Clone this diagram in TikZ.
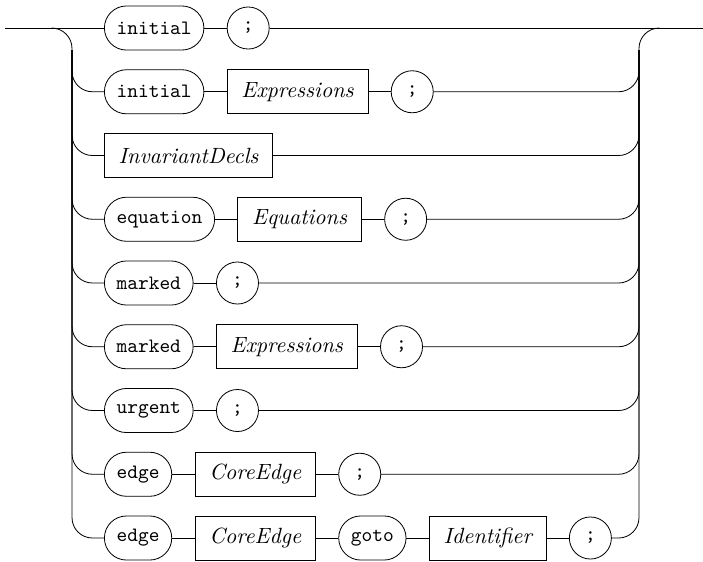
\documentclass[tikz,border=0pt]{standalone}
\usetikzlibrary{positioning}
\tikzset{
    terminal/.style = {rectangle, draw, rounded corners=10.8pt, minimum height=21.6pt, inner xsep=6pt, font=\ttfamily},
    nonterm/.style  = {rectangle, draw, minimum height=21.6pt, inner xsep=7pt, font=\fontsize{10.8}{13}\selectfont\itshape},
    semi/.style     = {circle, draw, minimum size=20.6pt, inner sep=0pt, font=\ttfamily},
    track/.style    = {draw, rounded corners=10pt}
}
\begin{document}
\begin{tikzpicture}[x=0.49pt, y=-0.49pt, node distance=11pt]
        \useasboundingbox (0,0) rectangle (703,561);
        \coordinate (in) at (5,28);
        \coordinate (out) at (703,28);
        \coordinate (split) at (52,28);
        \coordinate (rail) at (72,28);
        \coordinate (railtop) at (72,50);
        \coordinate (rrail) at (639,28);
        \coordinate (rrailtop) at (639,50);
        \coordinate (join) at (659,28);

        % Row 1
        \node[terminal, anchor=west] (ini1) at (104,28) {initial};
        \node[semi, right=of ini1] (sc1) {;};
        % Row 2
        \node[terminal, anchor=west] (ini2) at (104,91.75) {initial};
        \node[nonterm, right=of ini2] (exp2) {Expressions};
        \node[semi, right=of exp2] (sc2) {;};
        % Row 3
        \node[nonterm, anchor=west] (inv3) at (104,155.5) {InvariantDecls};
        % Row 4
        \node[terminal, anchor=west] (equ4) at (104,219.25) {equation};
        \node[nonterm, right=of equ4] (eqs4) {Equations};
        \node[semi, right=of eqs4] (sc4) {;};
        % Row 5
        \node[terminal, anchor=west] (mrk5) at (104,283) {marked};
        \node[semi, right=of mrk5] (sc5) {;};
        % Row 6
        \node[terminal, anchor=west] (mrk6) at (104,346.75) {marked};
        \node[nonterm, right=of mrk6] (exp6) {Expressions};
        \node[semi, right=of exp6] (sc6) {;};
        % Row 7
        \node[terminal, anchor=west] (urg7) at (104,410.5) {urgent};
        \node[semi, right=of urg7] (sc7) {;};
        % Row 8
        \node[terminal, anchor=west] (edg8) at (104,474.25) {edge};
        \node[nonterm, right=of edg8] (core8) {CoreEdge};
        \node[semi, right=of core8] (sc8) {;};
        % Row 9
        \node[terminal, anchor=west] (edg9) at (104,538) {edge};
        \node[nonterm, right=of edg9] (core9) {CoreEdge};
        \node[terminal, right=of core9] (goto9) {goto};
        \node[nonterm, right=of goto9] (id9) {Identifier};
        \node[semi, right=of id9] (sc9) {;};

        % Straight runs
        \draw (in) -- (ini1) -- (sc1) -- (out);
        \draw (ini2) -- (exp2) -- (sc2);
        \draw (equ4) -- (eqs4) -- (sc4);
        \draw (mrk5) -- (sc5);
        \draw (mrk6) -- (exp6) -- (sc6);
        \draw (urg7) -- (sc7);
        \draw (edg8) -- (core8) -- (sc8);
        \draw (edg9) -- (core9) -- (goto9) -- (id9) -- (sc9);

        % Left rail
        \draw[track] (split) -| (rail |- edg9.west) -- (edg9.west);
        \foreach \n in {ini2,inv3,equ4,mrk5,mrk6,urg7,edg8}
            \draw[track] (railtop) |- (\n.west);

        % Right rail
        \draw[track] (sc9.east) -| (rrail) -- (join);
        \foreach \n in {sc2,inv3,sc4,sc5,sc6,sc7,sc8}
            \draw[track] (\n.east) -| (rrailtop);
\end{tikzpicture}
\end{document}
